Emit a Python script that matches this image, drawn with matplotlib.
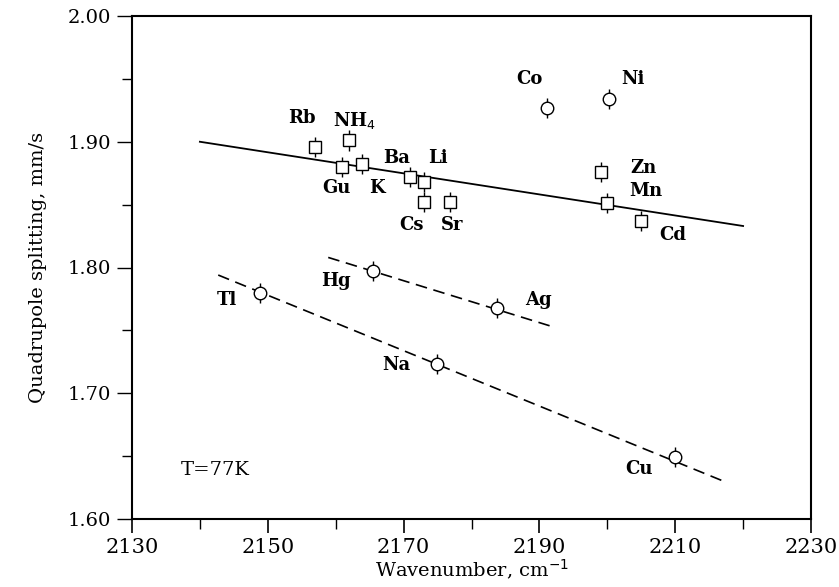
import matplotlib.pyplot as plt
from matplotlib.ticker import MultipleLocator, FormatStrFormatter

# square symbols
sq_names = ['Rb', 'NH$_4$', 'Gu', 'K', 'Ba', 'Li', 'Cs', 'Sr', 'Zn', 'Mn', 'Cd']
sq_x = [2157.0, 2162.0, 2161.0, 2163.9, 2170.9, 2173.0, 2173.0, 2176.9, 2199.0, 2199.9, 2205.0]
sq_y = [1.896, 1.901, 1.880, 1.882, 1.872, 1.868, 1.852, 1.852, 1.876, 1.851, 1.837]

# circle symbols
ci_names = ['Co', 'Ni', 'Tl', 'Hg', 'Ag', 'Na', 'Cu']
ci_x = [2191.1, 2200.2, 2148.9, 2165.5, 2183.7, 2174.9, 2209.9]
ci_y = [1.927, 1.934, 1.780, 1.797, 1.768, 1.723, 1.649]

# fitted lines
fit_x = [2140, 2220]
fit_y = [1.900, 1.833]
hg_x = [2158.9, 2191.6]
hg_y = [1.808, 1.7535]
tl_x = [2142.7, 2217.6]
tl_y = [1.794, 1.629]

x_ticks = [2130, 2150, 2170, 2190, 2210, 2230]

# where the labels sit (data coords)
sq_lab = [(2155.0, 1.9186), (2162.8, 1.917), (2160.1, 1.863), (2166.0, 1.863),
          (2169.0, 1.887), (2175.1, 1.887), (2171.2, 1.834), (2177.1, 1.834),
          (2205.3, 1.879), (2205.6, 1.861), (2209.7, 1.826)]
ci_lab = [(2188.6, 1.950), (2203.8, 1.950), (2143.9, 1.774), (2160.1, 1.789),
          (2189.9, 1.774), (2169.0, 1.7225), (2204.6, 1.640)]

plt.rcParams['font.family'] = ['DejaVu Serif']

fig = plt.figure(figsize=(8.39, 5.87), dpi=100)
ax = fig.add_axes([132 / 839, 1 - 519 / 587, 679 / 839, 503 / 587])

ax.plot(fit_x, fit_y, color='black', lw=1.3)
ax.plot(hg_x, hg_y, color='black', lw=1.2, dashes=(7, 4))
ax.plot(tl_x, tl_y, color='black', lw=1.2, dashes=(7, 4))

ax.errorbar(sq_x, sq_y, yerr=0.008, fmt='s', ms=8, mfc='white', mec='black',
            mew=1.0, ecolor='black', elinewidth=1.0, capsize=0, zorder=3)
ax.errorbar(ci_x, ci_y, yerr=0.008, fmt='o', ms=9, mfc='white', mec='black',
            mew=1.0, ecolor='black', elinewidth=1.0, capsize=0, zorder=3)

for n, (lx, ly) in zip(sq_names, sq_lab):
    ax.text(lx, ly, n, ha='center', va='center', fontsize=13, fontweight='bold')
for n, (lx, ly) in zip(ci_names, ci_lab):
    ax.text(lx, ly, n, ha='center', va='center', fontsize=13, fontweight='bold')

ax.text(2142.2, 1.639, 'T=77K', ha='center', va='center', fontsize=14)

ax.set_xlim(2130, 2230)
ax.set_ylim(1.60, 2.00)
ax.set_xticks(x_ticks)
ax.set_xticks([t + 10 for t in x_ticks[:-1]], minor=True)
ax.yaxis.set_major_locator(MultipleLocator(0.1))
ax.yaxis.set_minor_locator(MultipleLocator(0.05))
ax.yaxis.set_major_formatter(FormatStrFormatter('%.2f'))

ax.tick_params(axis='x', which='major', direction='out', length=10, width=1.2, labelsize=15, pad=4)
ax.tick_params(axis='x', which='minor', direction='out', length=7, width=1.0)
ax.tick_params(axis='y', which='major', direction='out', length=11, width=1.0, labelsize=14, pad=4)
ax.tick_params(axis='y', which='minor', direction='out', length=7, width=1.0)
for s in ax.spines.values():
    s.set_linewidth(1.5)

ax.set_xlabel('Wavenumber, cm$^{-1}$', fontsize=14, labelpad=0)
ax.set_ylabel('Quadrupole splitting, mm/s', fontsize=14, labelpad=15)

fig.savefig('out.png', dpi=100)
